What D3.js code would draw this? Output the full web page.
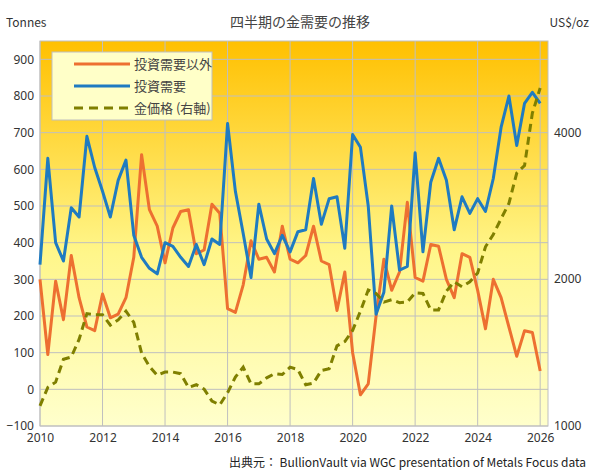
<!DOCTYPE html>
<html><head><meta charset="utf-8">
<script src="https://cdn.jsdelivr.net/npm/d3@7"></script>
<style>body{margin:0;background:#fff;font-family:"Noto Sans CJK JP","Noto Sans",sans-serif;}</style>
</head><body><svg id="viz" width="595" height="475"></svg>
<script>
// quarterly, 2010Q1 .. 2026Q1
const nonInvestment = [300,95,295,190, 365,250,170,160, 260,195,205,250, 360,640,490,445,
  345,440,485,490, 370,380,505,480, 220,210,285,405, 355,360,320,445,
  355,345,365,445, 350,340,215,320, 100,-15,15,200, 355,270,320,510,
  305,295,395,390, 300,250,370,360, 270,165,300,250, 170,90,160,155, 50];
const investment = [340,630,400,350, 495,470,690,605, 540,470,570,625, 420,360,330,315,
  400,390,360,335, 395,340,410,395, 725,540,425,305, 505,410,370,420,
  375,430,435,575, 450,520,525,385, 695,660,500,205, 265,500,325,335,
  645,375,565,630, 570,435,525,480, 520,485,575,715, 800,665,780,810, 780];
const goldPrice = [1100,1200,1230,1370, 1385,1505,1700,1690, 1690,1610,1650,1720, 1630,1410,1325,1270,
  1290,1290,1280,1200, 1215,1190,1125,1105, 1170,1260,1320,1220, 1220,1255,1280,1275,
  1320,1305,1215,1225, 1300,1310,1460,1490, 1570,1720,1900,1870, 1795,1815,1790,1795,
  1875,1870,1730,1730, 1890,1975,1930,1975, 2060,2330,2470,2660, 2860,3300,3420,4380, 4930];
const leftTicks = [-100,0,100,200,300,400,500,600,700,800,900];
const rightTicks = [1000,2000,4000];
const yearTicks = [2010,2012,2014,2016,2018,2020,2022,2024,2026];
const seriesNames = ["投資需要以外","投資需要","金価格 (右軸)"];

const svg = d3.select("#viz");
const m = {l:40, r:47, t:41, b:49};
const W = 595, H = 475;
const x = d3.scaleLinear().domain([2010, 2026.25]).range([m.l, W - m.r]);
const y = d3.scaleLinear().domain([-100, 950]).range([H - m.b, m.t]);
const y2 = d3.scaleLog().domain([1000, 1000 * Math.pow(2, (y(-100) - y(950)) / (y(-100) - y(0)) * Math.log2(2) * 0 + 0)]).range([H - m.b, m.t]);
// right axis: 1000 at bottom, one doubling per 147px approx
const pxPerDouble = (y(-100) - y(900)) / Math.log2(5645 / 1000);
y2.domain([1000, 1000 * Math.pow(2, (y(-100) - y(950)) / pxPerDouble)]);
const t = (i) => 2010 + i * 0.25;

const defs = svg.append("defs");
const grad = defs.append("linearGradient").attr("id","bg").attr("x1",0).attr("y1",0).attr("x2",0).attr("y2",1);
grad.append("stop").attr("offset","0%").attr("stop-color","#ffc000");
grad.append("stop").attr("offset","55%").attr("stop-color","#fff68a");
grad.append("stop").attr("offset","100%").attr("stop-color","#ffffcc");
svg.append("rect").attr("x",m.l).attr("y",m.t).attr("width",W-m.l-m.r).attr("height",H-m.t-m.b).attr("fill","url(#bg)");

const grid = svg.append("g").attr("stroke","#bfbfbf").attr("stroke-width",1);
leftTicks.forEach(v => grid.append("line").attr("x1",m.l).attr("x2",W-m.r).attr("y1",y(v)).attr("y2",y(v)));
yearTicks.forEach(v => grid.append("line").attr("x1",x(v)).attr("x2",x(v)).attr("y1",m.t).attr("y2",H-m.b));
svg.append("rect").attr("x",m.l).attr("y",m.t).attr("width",W-m.l-m.r).attr("height",H-m.t-m.b).attr("fill","none").attr("stroke","#bfbfbf");

const fs = 12, tc = "#333";
svg.append("g").attr("transform",`translate(${m.l},0)`).call(d3.axisLeft(y).tickValues(leftTicks).tickSize(0).tickPadding(6))
  .call(g => g.select(".domain").remove()).selectAll("text").attr("font-size",fs).attr("fill",tc).attr("font-family","Noto Sans, sans-serif");
svg.append("g").attr("transform",`translate(${W-m.r},0)`).call(d3.axisRight(y2).tickValues(rightTicks).tickFormat(d3.format("d")).tickSize(0).tickPadding(6))
  .call(g => g.select(".domain").remove()).selectAll("text").attr("font-size",fs).attr("fill",tc).attr("font-family","Noto Sans, sans-serif");
svg.append("g").attr("transform",`translate(0,${H-m.b})`).call(d3.axisBottom(x).tickValues(yearTicks).tickFormat(d3.format("d")).tickSize(0).tickPadding(7))
  .call(g => g.select(".domain").remove()).selectAll("text").attr("font-size",fs).attr("fill",tc).attr("font-family","Noto Sans, sans-serif");

const line = (sc) => d3.line().x((d,i) => x(t(i))).y(d => sc(d));
svg.append("path").datum(nonInvestment).attr("d",line(y)).attr("fill","none").attr("stroke","#ed7031").attr("stroke-width",3).attr("stroke-linejoin","round");
svg.append("path").datum(investment).attr("d",line(y)).attr("fill","none").attr("stroke","#1f7bc1").attr("stroke-width",3).attr("stroke-linejoin","round");
svg.append("path").datum(goldPrice).attr("d",line(y2)).attr("fill","none").attr("stroke","#7f7f00").attr("stroke-width",3).attr("stroke-dasharray","8,5");

// legend
const lg = svg.append("g").attr("transform","translate(52,52)");
lg.append("rect").attr("width",160).attr("height",68).attr("fill","#ffffc8").attr("stroke","#bfbfbf");
const lc = ["#ed7031","#1f7bc1","#7f7f00"];
seriesNames.forEach((n,i) => {
  const yy = 12 + i*22;
  lg.append("line").attr("x1",22).attr("x2",78).attr("y1",yy).attr("y2",yy).attr("stroke",lc[i]).attr("stroke-width",3)
    .attr("stroke-dasharray", i===2 ? "9,6" : null);
  lg.append("text").attr("x",82).attr("y",yy+4.5).attr("font-size",13).attr("fill","#444").text(n);
});

svg.append("text").attr("x",300).attr("y",27).attr("text-anchor","middle").attr("font-size",14).attr("fill","#444").text("四半期の金需要の推移");
svg.append("text").attr("x",6).attr("y",27).attr("font-size",12).attr("fill",tc).text("Tonnes");
svg.append("text").attr("x",589).attr("y",27).attr("text-anchor","end").attr("font-size",12).attr("fill",tc).text("US$/oz");
svg.append("text").attr("x",586).attr("y",467).attr("text-anchor","end").attr("font-size",12).attr("fill","#222").text("出典元： BullionVault via WGC presentation of Metals Focus data");
</script></body></html>
